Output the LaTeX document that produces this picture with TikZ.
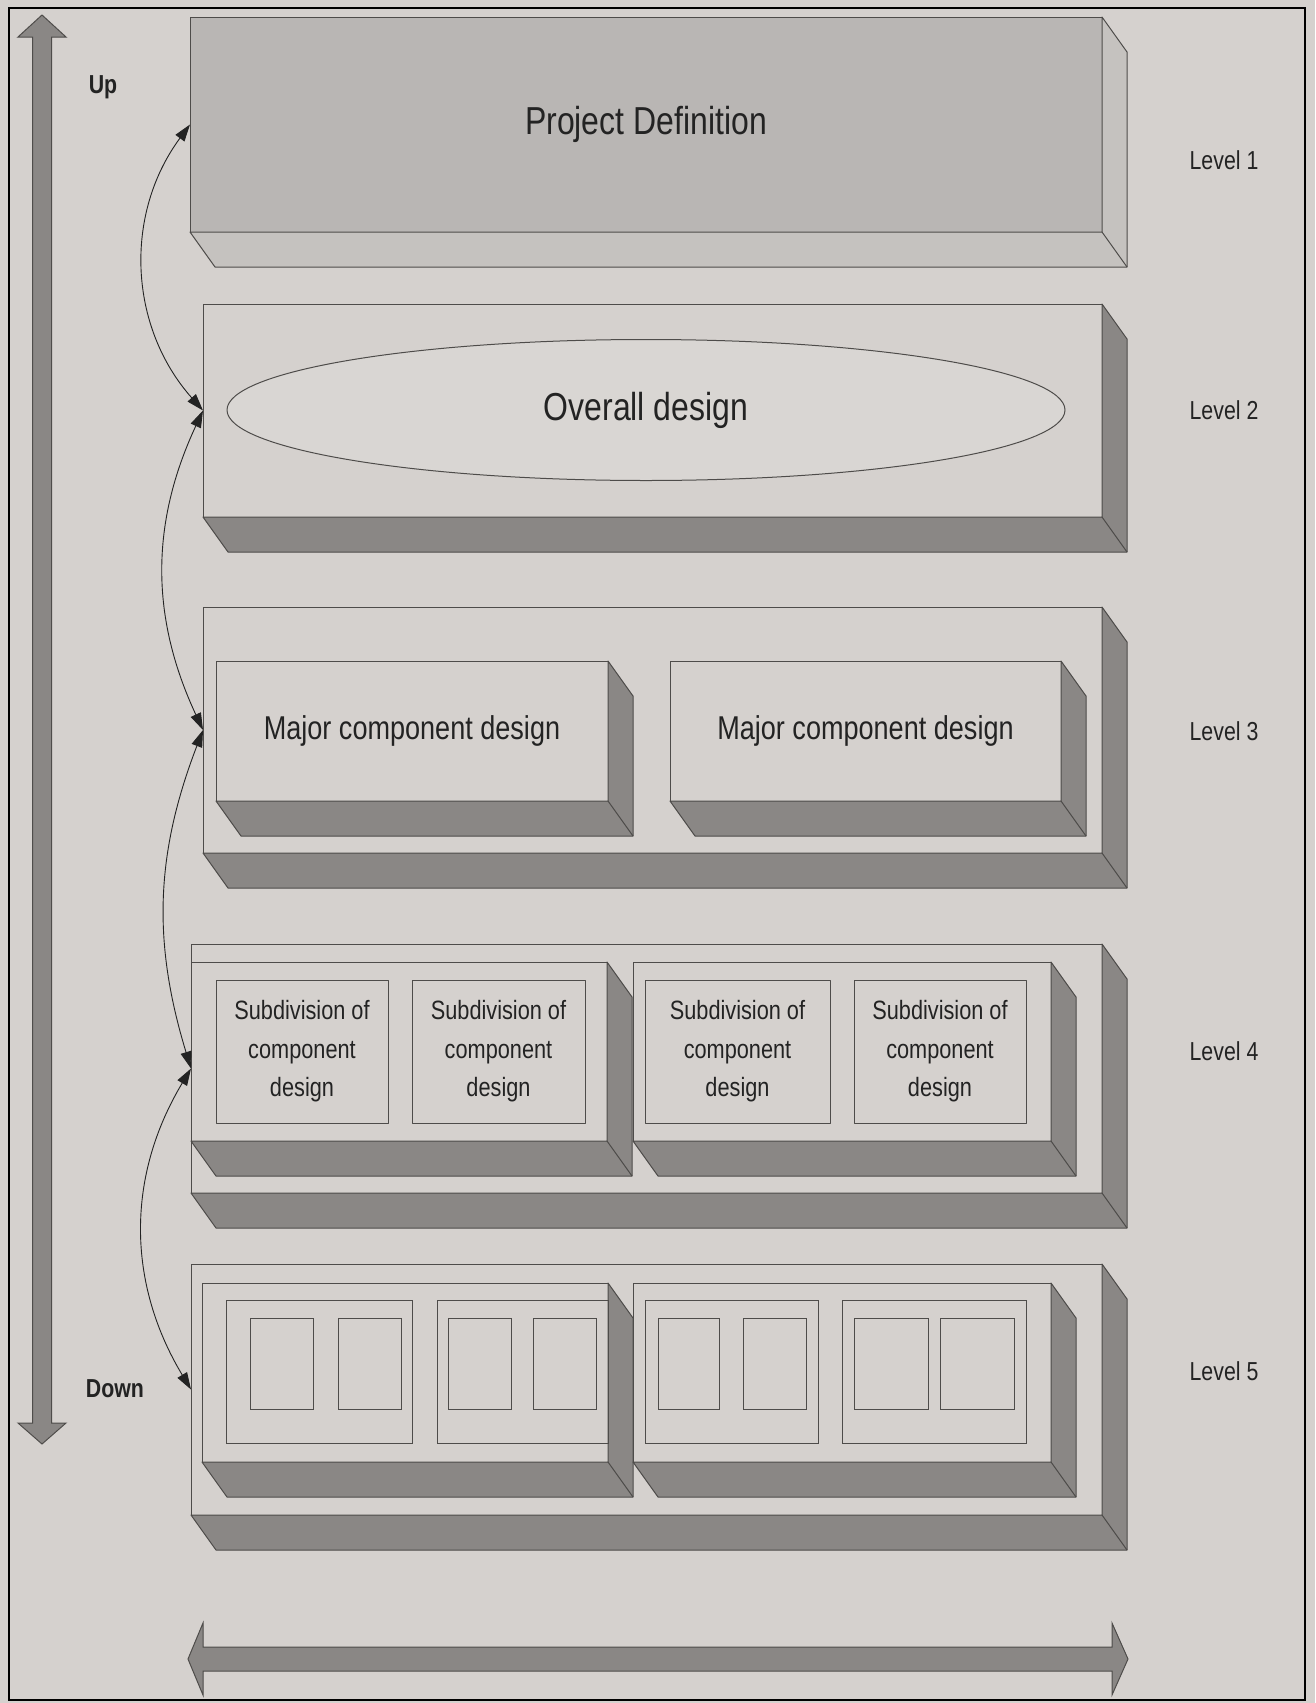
\documentclass[tikz,border=0pt]{standalone}
\usepackage{fontspec}
\setmainfont{Liberation Sans}
\newfontfamily\narrowsans[FakeStretch=0.82]{Liberation Sans}
\usetikzlibrary{calc,arrows.meta,shapes.geometric}

\definecolor{paper}{RGB}{213,209,206}
\definecolor{slabtop}{RGB}{185,182,180}
\definecolor{slabside}{RGB}{197,194,191}
\definecolor{shade}{RGB}{138,135,133}
\definecolor{edge}{RGB}{78,76,74}
\definecolor{ink}{RGB}{35,35,35}
\definecolor{oval}{RGB}{217,214,211}

\tikzset{
	face/.style={draw=edge, line width=1pt, line join=round},
	front/.style={face, fill=paper, inner sep=0pt, outer sep=0pt, text=ink},
	subbox/.style={front, minimum height=143pt, align=center, font=\narrowsans\fontsize{26.5}{38.5}\selectfont},
	frame/.style={draw=edge, line width=1pt},
	link/.style={line width=0.9pt, draw=ink, {Triangle[length=17pt,width=11pt]}-{Triangle[length=17pt,width=11pt]}},
	bigarrow/.style={draw=edge, line width=1pt, fill=shade},
	lbl/.style={text=ink, font=\narrowsans\fontsize{26}{30}\selectfont},
}

% bottom and side of a slab, below and right of its front face
\newcommand{\slabfaces}[2]{%
	\draw[face, fill=#2] (#1.south west) -- ++(25,35) -- ($(#1.south east)+(25,35)$)
		-- ($(#1.north east)+(25,35)$) -- (#1.north east) -- (#1.south east) -- cycle;
	\draw[face] (#1.south east) -- ++(25,35);
}

\begin{document}
\begin{tikzpicture}[x=1pt, y=-1pt]
	\useasboundingbox (0,0) rectangle (1315,1703);
	\fill[paper] (0,0) rectangle (1315,1703);
	\draw[line width=2.5pt] (9,8) rectangle (1305,1700);

	%level 1
	\node[front, fill=slabtop, minimum width=912pt, minimum height=215pt, font=\narrowsans\fontsize{39}{45}\selectfont] (lv1) at (646,124.5) {Project Definition};
	\slabfaces{lv1}{slabside}

	%level 2
	\node[front, minimum width=899pt, minimum height=213pt] (lv2) at (652.5,410.5) {};
	\slabfaces{lv2}{shade}
	\node[ellipse, face, fill=oval, inner sep=0pt, minimum width=838pt, minimum height=141pt, text=ink, font=\narrowsans\fontsize{39}{45}\selectfont] (ov) at (646,410) {Overall design};

	%level 3
	\node[front, minimum width=899pt, minimum height=246pt] (lv3) at (652.5,730) {};
	\slabfaces{lv3}{shade}
	\node[front, minimum width=392pt, minimum height=140pt, font=\narrowsans\fontsize{33}{40}\selectfont] (mc1) at (412,731) {Major component design};
	\slabfaces{mc1}{shade}
	\node[front, minimum width=391pt, minimum height=140pt, font=\narrowsans\fontsize{33}{40}\selectfont] (mc2) at (865.5,731) {Major component design};
	\slabfaces{mc2}{shade}

	%level 4
	\node[front, minimum width=911pt, minimum height=249pt] (lv4) at (646.5,1068.5) {};
	\slabfaces{lv4}{shade}
	\node[front, minimum width=416pt, minimum height=179pt] (sc1) at (399,1051.5) {};
	\slabfaces{sc1}{shade}
	\node[front, minimum width=418pt, minimum height=179pt] (sc2) at (842,1051.5) {};
	\slabfaces{sc2}{shade}
	\foreach \n/\x/\w in {1/302/172, 2/498.5/173, 3/737.5/185, 4/940/172}
		\node[subbox, minimum width=\w pt] (sd\n) at (\x,1051.5) {Subdivision of\\component\\design};

	%level 5
	\node[front, minimum width=911pt, minimum height=251pt] (lv5) at (646.5,1389.5) {};
	\slabfaces{lv5}{shade}
	\node[front, minimum width=406pt, minimum height=179pt] (sb1) at (405,1372.5) {};
	\slabfaces{sb1}{shade}
	\node[front, minimum width=418pt, minimum height=179pt] (sb2) at (842,1372.5) {};
	\slabfaces{sb2}{shade}
	\foreach \a/\b in {226/412, 437/608, 645/818, 842/1026}
		\draw[frame] (\a,1300) rectangle (\b,1443);
	\foreach \a/\b in {250/313, 338/401, 448/511, 533/596, 658/719, 743/806, 854/928, 940/1014}
		\draw[frame] (\a,1318) rectangle (\b,1409);

	%level labels
	\node[lbl] (lab1) at (1224,160) {Level 1};
	\node[lbl] (lab2) at (1224,410) {Level 2};
	\node[lbl] (lab3) at (1224,731) {Level 3};
	\node[lbl] (lab4) at (1224,1051) {Level 4};
	\node[lbl] (lab5) at (1224,1371) {Level 5};

	%up and down
	\draw[bigarrow] (42,15) -- (66,37) -- (51.5,37) -- (51.5,1423) -- (66,1423) -- (42,1444)
		-- (18,1423) -- (32.5,1423) -- (32.5,37) -- (18,37) -- cycle;		%left
	\draw[bigarrow] (188,1659) -- (203,1623) -- (203,1647) -- (1112,1647) -- (1112,1623) -- (1128,1659)
		-- (1112,1695) -- (1112,1671) -- (203,1671) -- (203,1695) -- cycle;	%bottom
	\node[lbl, font=\narrowsans\bfseries\fontsize{26}{30}\selectfont] (up) at (103,87) {Up};
	\node[lbl, font=\narrowsans\bfseries\fontsize{26}{30}\selectfont] (down) at (115,1389) {Down};

	%links
	\draw[link] (lv1.west) to[bend right=39] (lv2.west);
	\draw[link] (lv2.west) to[bend right=25] (lv3.west);
	\draw[link] (lv3.west) to[bend right=19] (lv4.west);
	\draw[link] (lv4.west) to[bend right=31] (lv5.west);
\end{tikzpicture}
\end{document}
